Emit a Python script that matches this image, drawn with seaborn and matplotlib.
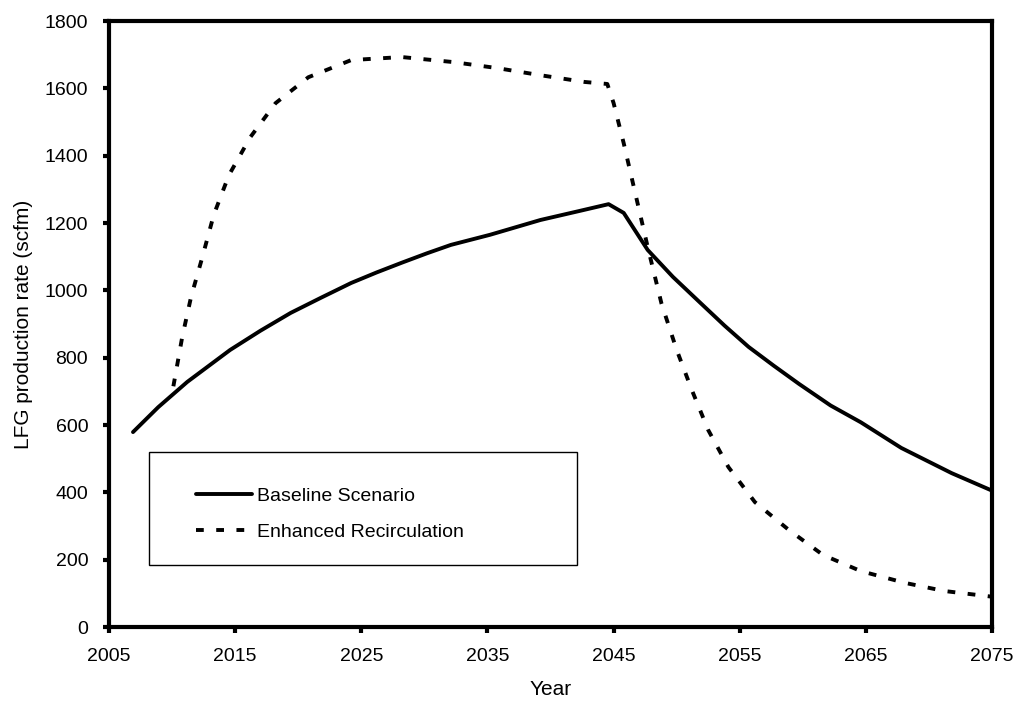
import matplotlib
matplotlib.use("Agg")
import matplotlib.pyplot as plt
from matplotlib.patches import Rectangle
import seaborn as sns
import pandas as pd

# ---- data ----
base_years = [2006.9, 2008.9, 2011.2, 2014.6, 2017.0, 2019.4, 2021.8, 2024.2, 2026.2,
              2028.2, 2030.2, 2032.1, 2035.2, 2039.2, 2042.2, 2044.6, 2045.8, 2047.7,
              2049.7, 2051.9, 2053.8, 2055.7, 2057.7, 2059.7, 2062.2, 2064.6, 2067.8,
              2071.8, 2075.0]
base_vals = [579, 653, 728, 823, 880, 933, 978, 1022, 1053,
             1082, 1110, 1135, 1165, 1209, 1235, 1256, 1230, 1120,
             1040, 962, 895, 832, 776, 722, 658, 608, 532,
             457, 405]

enh_years = [2010.1, 2010.8, 2011.5, 2012.4, 2013.3, 2014.5, 2016.2, 2018.2, 2020.8,
             2024.2, 2028.2, 2032.3, 2035.8, 2039.2, 2042.7, 2044.5, 2045.0, 2045.8,
             2046.2, 2047.7, 2048.8, 2050.0, 2051.2, 2052.5, 2054.1, 2056.2, 2058.9,
             2061.6, 2064.6, 2068.1, 2071.2, 2075.0]
enh_vals = [715, 861, 980, 1099, 1224, 1342, 1455, 1556, 1633,
            1684, 1693, 1678, 1660, 1639, 1619, 1613, 1556, 1437,
            1372, 1129, 960, 823, 704, 585, 475, 371, 288,
            214, 166, 131, 107, 90]

series_names = ["Baseline Scenario", "Enhanced Recirculation"]
x_ticks = [2005, 2015, 2025, 2035, 2045, 2055, 2065, 2075]
y_ticks = [0, 200, 400, 600, 800, 1000, 1200, 1400, 1600, 1800]

df = pd.concat([
    pd.DataFrame({"Year": base_years, "Value": base_vals, "Scenario": series_names[0]}),
    pd.DataFrame({"Year": enh_years, "Value": enh_vals, "Scenario": series_names[1]}),
], ignore_index=True)

sns.set_style("white")
plt.rcParams["font.family"] = ["Liberation Sans", "DejaVu Sans"]
plt.rcParams["text.color"] = "black"
plt.rcParams["axes.labelcolor"] = "black"

fig = plt.figure(figsize=(10.2, 7.03), dpi=100)
ax = fig.add_axes([0.1069, 0.1081, 0.8657, 0.8620])

sns.lineplot(data=df, x="Year", y="Value", style="Scenario", hue="Scenario",
             palette={series_names[0]: "black", series_names[1]: "black"},
             dashes={series_names[0]: "", series_names[1]: (2, 3.2)},
             linewidth=2.8, sort=False, estimator=None, ax=ax)

ax.set_xlim(2005, 2075)
ax.set_ylim(0, 1800)
ax.set_xticks(x_ticks)
ax.set_yticks(y_ticks)
ax.tick_params(axis="both", direction="out", length=4, width=3, color="black",
               labelsize=14, labelcolor="black", pad=11, left=True, bottom=True)
for s in ax.spines.values():
    s.set_visible(True)
    s.set_color("black")
    s.set_linewidth(3)

ax.set_xlabel("Year", fontsize=15, labelpad=11, color="black")
ax.set_ylabel("LFG production rate (scfm)", fontsize=15, labelpad=8, color="black")

# legend (frame drawn as a separate rectangle so the box is wider than its contents)
leg = ax.legend(loc="upper left", bbox_to_anchor=(0.0985, 0.231), fontsize=14,
                frameon=False, handlelength=2.9, handletextpad=0.25,
                labelspacing=0.95, borderpad=0, borderaxespad=0)
for t in leg.get_texts():
    t.set_color("black")
ax.add_patch(Rectangle((0.0453, 0.1023), 0.4847, 0.1865, transform=ax.transAxes,
                       fill=True, facecolor="white", edgecolor="black", lw=1.0, zorder=4))
leg.set_zorder(5)

fig.savefig("out.png", dpi=100, facecolor="white")
